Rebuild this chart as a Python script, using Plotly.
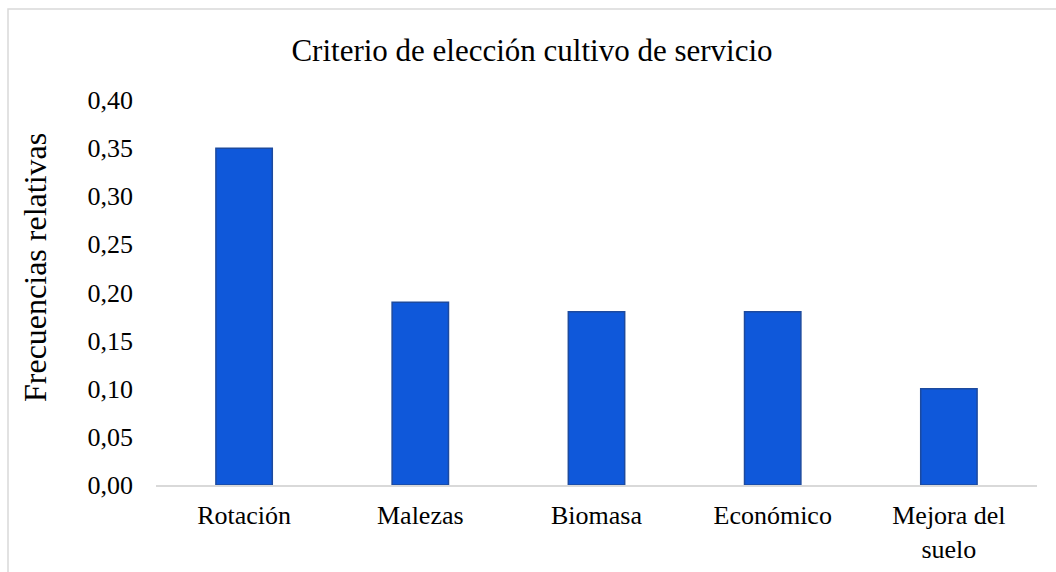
import plotly.graph_objects as go

categories = ["Rotación", "Malezas", "Biomasa", "Económico", "Mejora del<br>suelo"]
values = [0.35, 0.19, 0.18, 0.18, 0.10]
tick_vals = [0.00, 0.05, 0.10, 0.15, 0.20, 0.25, 0.30, 0.35, 0.40]
tick_text = ["0,00", "0,05", "0,10", "0,15", "0,20", "0,25", "0,30", "0,35", "0,40"]

FONT = "Liberation Serif, Times New Roman, serif"

L, R, T, B = 156, 19, 100, 87
W, H = 1056, 572
pw, ph = W - L - R, H - T - B

def px_x(x):
    return (x - L) / pw

def px_y(y):
    return (H - B - y) / ph

fig = go.Figure(go.Bar(
    x=categories, y=values,
    marker=dict(color="#0F58DA", line=dict(color="#1D4A9E", width=1.5)),
    width=0.32,
))

fig.update_layout(
    width=W, height=H,
    margin=dict(l=L, r=R, t=T, b=B),
    paper_bgcolor="white", plot_bgcolor="white",
    font=dict(family=FONT, color="#000000", size=26),
    showlegend=False,
    title=dict(text="Criterio de elección cultivo de servicio",
               x=(532) / W, xanchor="center", y=1 - 50 / H, yanchor="middle",
               font=dict(family=FONT, size=31, color="#000000")),
    xaxis=dict(showline=True, linecolor="#d9d9d9", linewidth=1.5,
               showgrid=False, ticks="", tickfont=dict(family=FONT, size=26),
               ticklabelstandoff=6, automargin=False),
    yaxis=dict(range=[0, 0.40], showgrid=False, zeroline=False, showline=False,
               tickvals=tick_vals, ticktext=tick_text, ticks="",
               tickfont=dict(family=FONT, size=26), ticklabelstandoff=22,
               automargin=False),
    annotations=[dict(text="Frecuencias relativas", textangle=-90,
                      xref="paper", yref="paper", x=px_x(35), y=px_y(268),
                      xanchor="center", yanchor="middle", showarrow=False,
                      font=dict(family=FONT, size=32, color="#000000"))],
    shapes=[dict(type="rect", xref="paper", yref="paper",
                 x0=px_x(8), y0=px_y(600), x1=px_x(1080), y1=px_y(9),
                 line=dict(color="#d9d9d9", width=1.5), fillcolor="rgba(0,0,0,0)",
                 layer="below")],
)

fig.write_html("out.html")
